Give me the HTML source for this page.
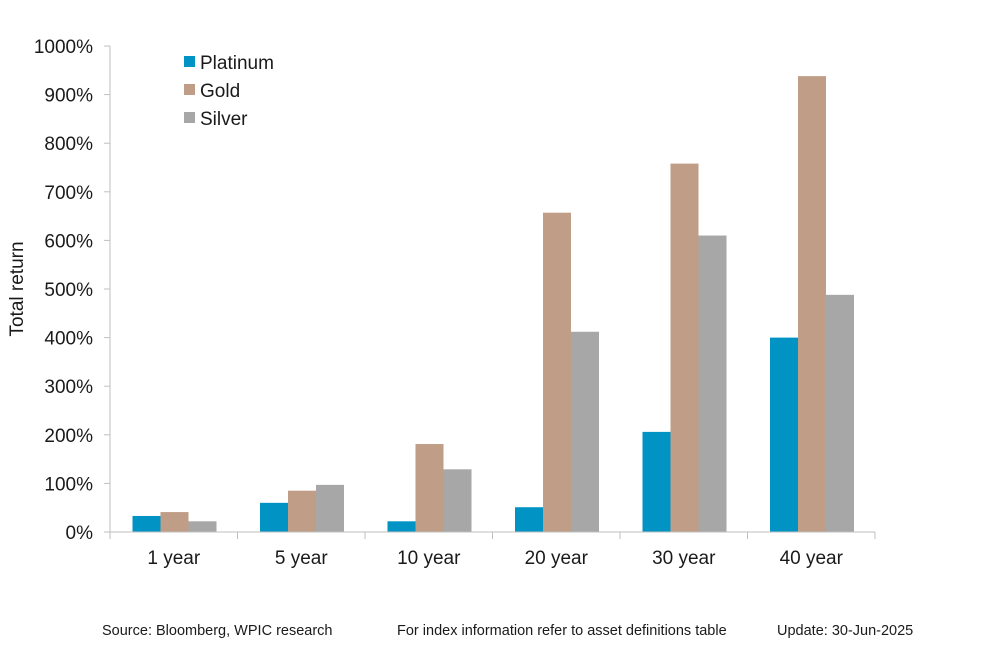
<!DOCTYPE html>
<html><head><meta charset="utf-8"><style>
body{margin:0;background:#fff;font-family:"Liberation Sans",Arial,sans-serif}
svg text{font-family:"Liberation Sans",Arial,sans-serif;fill:#1a1a1a}
</style></head><body>
<svg id="c" width="1000" height="652">
<text x="8" y="289" transform="rotate(-90 22 289)" font-size="19" style="display:none"></text>
<text transform="translate(23,289) rotate(-90)" text-anchor="middle" font-size="19">Total return</text>
<g id="legend">
<rect x="184" y="56" width="11" height="11" fill="#0093c4"/>
<text x="200" y="69" font-size="19">Platinum</text>
<rect x="184" y="84" width="11" height="11" fill="#bf9d86"/>
<text x="200" y="97" font-size="19">Gold</text>
<rect x="184" y="112" width="11" height="11" fill="#a7a7a7"/>
<text x="200" y="125" font-size="19">Silver</text>
</g>
<text x="102" y="635" font-size="14.5">Source: Bloomberg, WPIC research</text>
<text x="397" y="635" font-size="14.5">For index information refer to asset definitions table</text>
<text x="777" y="635" font-size="14.5">Update: 30-Jun-2025</text>
</svg>
<script>
const categories=["1 year","5 year","10 year","20 year","30 year","40 year"];
const platinum=[33,60,22,51,206,400];
const gold=[41,85,181,657,758,938];
const silver=[22,97,129,412,610,488];
const yTicks=[0,100,200,300,400,500,600,700,800,900,1000];
const seriesNames=["platinum","gold","silver"];
const svg=document.getElementById('c');
const NS='http://www.w3.org/2000/svg';
const L=110,R=875,T=46,B=532,ymax=1000;
const y=v=>B-(v/ymax)*(B-T);
const bw=(R-L)/categories.length;
const x=i=>L+i*bw;
function mk(t,a){const e=document.createElementNS(NS,t);for(const k in a)e.setAttribute(k,a[k]);svg.appendChild(e);return e;}
const series=[platinum,gold,silver],colors=["#0093c4","#bf9d86","#a7a7a7"];
const barW=28,off=22.5;
categories.forEach((c,i)=>{series.forEach((s,j)=>{
const r=mk('rect',{x:x(i)+off+j*barW,y:y(s[i]),width:barW,height:B-y(s[i]),fill:colors[j]});


});
const t=mk('text',{x:x(i)+bw/2,y:564,'text-anchor':'middle','font-size':19});
t.textContent=c;


});
for(let i=0;i<=categories.length;i++){
const tk=mk('line',{x1:x(i),x2:x(i),y1:B,y2:B+7,stroke:'#bfbfbf','stroke-width':1});


}
yTicks.forEach(v=>{
const tk=mk('line',{x1:L-6,x2:L,y1:y(v),y2:y(v),stroke:'#bfbfbf','stroke-width':1});


const t=mk('text',{x:93,y:y(v)+7,'text-anchor':'end','font-size':19});
t.textContent=v+'%';


});
const ya=mk('line',{x1:L,x2:L,y1:T,y2:B,stroke:'#bfbfbf','stroke-width':1});


const xa=mk('line',{x1:L-6,x2:R,y1:B,y2:B,stroke:'#bfbfbf','stroke-width':1});


</script>
</body></html>
